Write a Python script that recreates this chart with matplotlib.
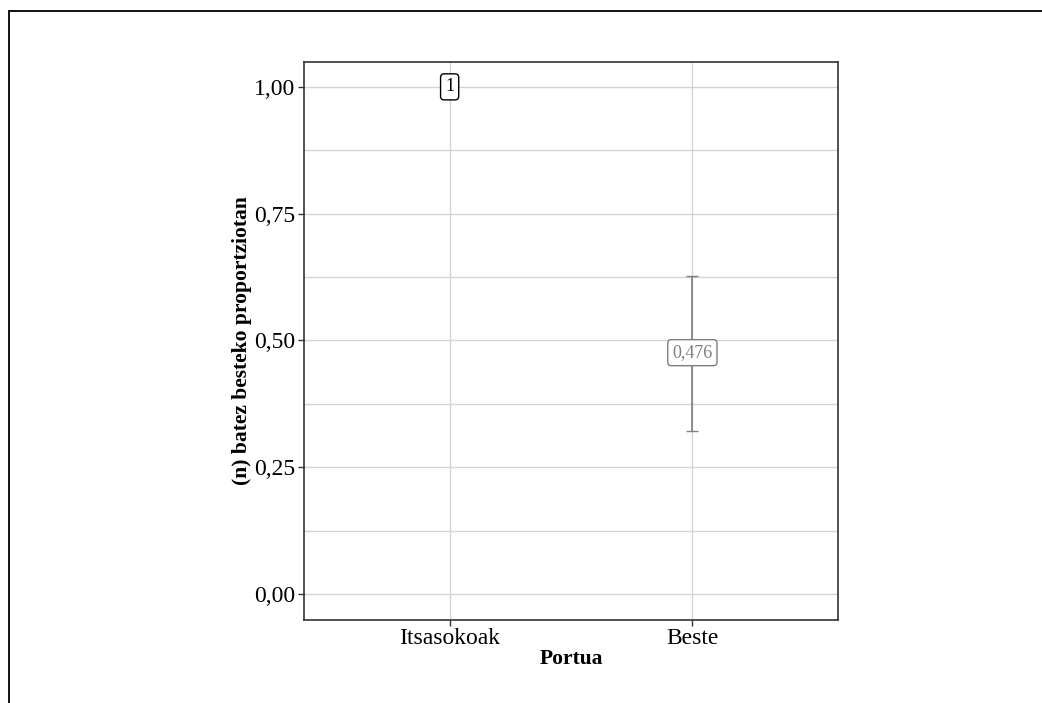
import matplotlib.pyplot as plt
from matplotlib.patches import Rectangle
from matplotlib.ticker import MultipleLocator, FixedLocator

plt.rcParams['font.family'] = ['Liberation Serif', 'DejaVu Serif']

# Mean proportion per port group, with 95% interval
ports = ["Itsasokoak", "Beste"]
means = [1.0, 0.476]
lower = [1.0, 0.321]
upper = [1.0, 0.627]
labels = ["1", "0,476"]
label_colors = ["black", "#7f7f7f"]

fig = plt.figure(figsize=(10.42, 7.03), dpi=100)
ax = fig.add_axes([304 / 1042, 1 - 620 / 703, 534 / 1042, 558 / 703])

# outer frame around the figure
fig.patches.append(Rectangle((9 / 1042, -0.1), 1.2, 1 - 11 / 703 + 0.1,
                             transform=fig.transFigure, fill=False,
                             edgecolor="black", linewidth=1.3))

x = list(range(1, len(ports) + 1))
ax.set_xlim(0.4, 2.6)
ax.set_ylim(-0.051, 1.049)

ax.yaxis.set_major_locator(MultipleLocator(0.25))
ax.yaxis.set_minor_locator(FixedLocator([0.125, 0.375, 0.625, 0.875]))
ax.set_xticks(x)
ax.set_xticklabels(ports)
ax.set_yticklabels([f"{v:.2f}".replace(".", ",") for v in ax.get_yticks()])
ax.grid(which="both", color="#d4d4d4", linewidth=1)
ax.set_axisbelow(True)
ax.tick_params(which="major", length=4, width=1, color="#333333",
               labelsize=17, labelcolor="black", pad=2)
ax.tick_params(which="minor", length=0)
for s in ax.spines.values():
    s.set_color("#333333")
    s.set_linewidth(1.2)

for xi, m, lo, hi, lab, col in zip(x, means, lower, upper, labels, label_colors):
    if hi > lo:
        ax.errorbar(xi, m, yerr=[[m - lo], [hi - m]], fmt="none",
                    ecolor="#7f7f7f", elinewidth=1.2, capsize=4, capthick=1)
    ax.text(xi, m, lab, ha="center", va="center", fontsize=13, color=col,
            bbox=dict(boxstyle="round,pad=0.25,rounding_size=0.2",
                      facecolor="white", edgecolor=col, linewidth=1))

ax.set_xlabel("Portua", fontsize=15.5, fontweight="bold", labelpad=0)
ax.set_ylabel("(n) batez besteko proportziotan", fontsize=15.5,
              fontweight="bold", labelpad=2)

fig.savefig("out.png", dpi=100)
